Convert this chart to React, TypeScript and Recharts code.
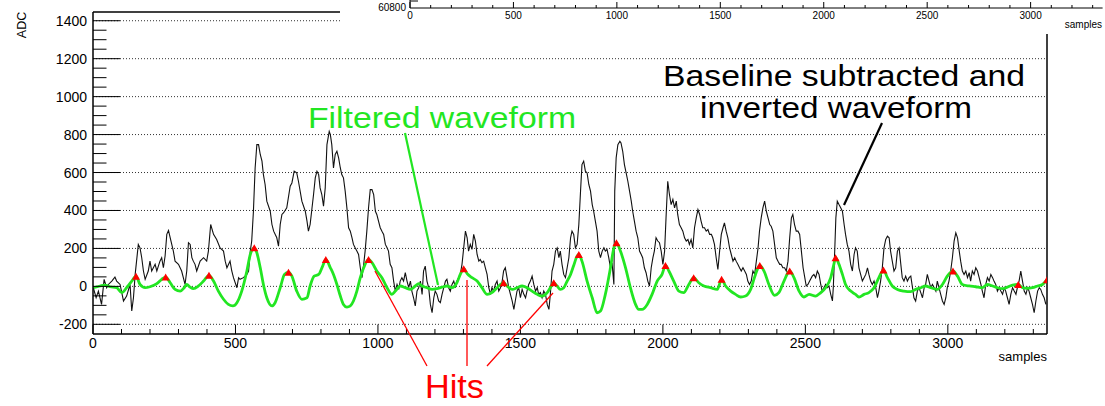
import React from 'react';
import { ComposedChart, Line, Scatter, XAxis, YAxis, ReferenceLine } from 'recharts';

// baseline subtracted, inverted waveform (black)
const rawSamples = [
  1, 11, 19, 30, 39, 48, 54, 66, 77, 83, 95, 107, 118, 130, 136, 142, 148, 159, 165, 171, 177, 183, 194, 200, 206, 218, 224,
  235, 241, 247, 253, 259, 265, 271, 282, 288, 300, 311, 317, 323, 329, 335, 341, 347, 352, 358, 364, 376, 388, 399, 405,
  413, 423, 434, 446, 458, 464, 470, 481, 487, 493, 505, 511, 516, 528, 540, 546, 552, 557, 563, 569, 575, 581, 587, 593,
  598, 604, 610, 622, 628, 634, 645, 651, 657, 663, 669, 680, 692, 698, 706, 715, 721, 733, 745, 751, 756, 762, 768, 774,
  780, 786, 792, 797, 803, 809, 815, 821, 829, 833, 838, 844, 850, 856, 862, 868, 873, 879, 885, 891, 897, 903, 909, 914,
  920, 926, 932, 938, 944, 950, 955, 961, 967, 973, 979, 985, 991, 996, 1002, 1008, 1014, 1020, 1026, 1032, 1037, 1043,
  1049, 1055, 1061, 1067, 1073, 1078, 1084, 1090, 1096, 1102, 1108, 1114, 1119, 1125, 1131, 1137, 1143, 1149, 1155, 1160,
  1166, 1172, 1178, 1184, 1190, 1196, 1201, 1207, 1213, 1219, 1225, 1231, 1237, 1242, 1248, 1254, 1260, 1266, 1272, 1277,
  1283, 1289, 1295, 1301, 1307, 1313, 1318, 1324, 1330, 1336, 1342, 1348, 1354, 1359, 1365, 1371, 1377, 1383, 1389, 1395,
  1400, 1406, 1412, 1418, 1424, 1430, 1436, 1441, 1447, 1453, 1459, 1465, 1471, 1477, 1482, 1488, 1494, 1500, 1506, 1512,
  1518, 1523, 1529, 1535, 1541, 1547, 1553, 1559, 1564, 1570, 1576, 1582, 1588, 1594, 1600, 1605, 1611, 1617, 1623, 1629,
  1635, 1640, 1646, 1652, 1658, 1664, 1670, 1676, 1681, 1687, 1693, 1699, 1705, 1711, 1716, 1722, 1728, 1734, 1740, 1746,
  1752, 1757, 1763, 1769, 1775, 1781, 1787, 1793, 1798, 1804, 1810, 1816, 1822, 1828, 1831, 1836, 1842, 1849, 1853, 1859,
  1865, 1871, 1877, 1883, 1889, 1894, 1900, 1906, 1912, 1918, 1924, 1929, 1935, 1941, 1947, 1953, 1959, 1965, 1970, 1976,
  1982, 1988, 1994, 2000, 2006, 2011, 2017, 2023, 2029, 2035, 2041, 2047, 2052, 2058, 2064, 2070, 2076, 2082, 2088, 2093,
  2099, 2105, 2111, 2117, 2123, 2129, 2134, 2140, 2146, 2152, 2158, 2164, 2170, 2175, 2181, 2187, 2193, 2199, 2205, 2211,
  2216, 2222, 2228, 2234, 2240, 2246, 2252, 2257, 2263, 2269, 2275, 2281, 2287, 2293, 2298, 2304, 2310, 2316, 2322, 2328,
  2334, 2339, 2345, 2351, 2357, 2363, 2369, 2375, 2380, 2386, 2392, 2398, 2404, 2410, 2415, 2421, 2427, 2433, 2439, 2445,
  2451, 2456, 2462, 2468, 2474, 2480, 2486, 2492, 2498, 2503, 2509, 2515, 2524, 2530, 2536, 2542, 2548, 2554, 2559, 2565,
  2571, 2577, 2583, 2589, 2595, 2598, 2603, 2607, 2612, 2618, 2624, 2630, 2636, 2641, 2647, 2653, 2659, 2665, 2671, 2676,
  2682, 2688, 2694, 2700, 2706, 2712, 2718, 2723, 2729, 2735, 2741, 2747, 2753, 2758, 2764, 2770, 2776, 2782, 2788, 2794,
  2799, 2805, 2811, 2817, 2823, 2829, 2835, 2840, 2846, 2852, 2858, 2864, 2870, 2876, 2881, 2887, 2893, 2899, 2905, 2911,
  2917, 2922, 2928, 2934, 2940, 2946, 2952, 2958, 2963, 2969, 2975, 2981, 2987, 2993, 2998, 3004, 3010, 3016, 3022, 3028,
  3034, 3040, 3045, 3051, 3057, 3063, 3069, 3075, 3080, 3086, 3092, 3098, 3104, 3110, 3116, 3121, 3127, 3133, 3139, 3145,
  3151, 3157, 3162, 3168, 3174, 3180, 3186, 3192, 3198, 3203, 3209, 3215, 3221, 3227, 3233, 3239, 3244, 3250, 3256, 3262,
  3268, 3274, 3280, 3285, 3291, 3297, 3303, 3309, 3315, 3321, 3326, 3332, 3338, 3344,
];
const rawAdc = [
  -7, -60, -25, -95, 37, -7, 10, 28, 49, 28, 10, -77, -51, 10, -130, -60, 63, 221, 203, 151, 81, 37, 81, 133, 81, 116, 81,
  133, 151, 98, 160, 274, 295, 256, 186, 133, 116, 81, 46, 10, 81, 230, 221, 151, 133, 116, 81, 133, 151, 133, 186,
  326, 274, 247, 203, 186, 133, 98, 133, 81, 46, -7, 46, 37, 46, 63, 81, 186, 239, 396, 624, 747, 747, 695, 660,
  589, 537, 449, 396, 326, 291, 256, 212, 326, 379, 388, 414, 528, 545, 607, 598, 554, 449, 396, 344, 291, 326, 405, 484,
  572, 607, 589, 519, 484, 423, 519, 747, 817, 800, 747, 624, 695, 712, 677, 624, 589, 572, 502, 414, 309, 291, 256, 221,
  203, 186, 168, 98, 46, 116, 186, 291, 414, 510, 510, 484, 396, 379, 344, 309, 291, 274, 221, 203, 186, 116,
  98, 28, -25, 10, -16, 28, 46, 28, 72, 28, -7, 28, -25, -60, -103, -25, -7, 28, -42, 81,
  107, 28, -7, -95, -139, -60, -25, -42, -77, -86, -42, -7, 28, 37, -7, -25, 10, 28, -7, 28,
  46, 63, 116, 203, 291, 256, 186, 221, 195, 274, 239, 168, 133, 142, 125, 133, 98, 63, -7, -42,
  -7, -25, 10, 28, -25, -7, 28, 81, 98, 46, -7, -42, -77, -121, -77, -25, -7, -60, -16, -42,
  -60, -25, 10, 28, 54, 10, -25, -7, -42, -33, -60, -25, -42, -95, -121, -42, 81, 116, 186, 203,
  151, 186, 116, 63, 46, 98, 151, 256, 291, 274, 203, 221, 326, 502, 642, 660, 607, 598, 537, 502,
  431, 396, 344, 291, 186, 151, 186, 203, 186, 195, 151, 98, 116, 10, 502, 677, 747, 765, 756, 712,
  642, 598, 554, 502, 449, 396, 344, 291, 256, 186, 168, 151, 98, 72, 28, 2, 98, 151, 186, 256,
  239, 230, 186, 116, 186, 361, 554, 484, 431, 458, 414, 449, 379, 326, 309, 291, 256, 239, 247, 221,
  247, 203, 309, 361, 405, 379, 344, 309, 309, 291, 300, 274, 274, 256, 221, 151, 89, 186, 274, 309,
  335, 291, 256, 203, 168, 133, 151, 133, 116, 98, 81, 98, 81, 63, 28, 10, 28, 81, 63, 133,
  203, 291, 361, 414, 449, 396, 361, 326, 317, 291, 221, 151, 133, 116, 116, 98, 98, 81, 133, 256,
  361, 379, 326, 291, 291, 274, 186, 98, 46, 2, 10, 28, 54, 63, 46, 81, 63, 10, -25, -7,
  10, -7, 2, -42, -77, -7, 186, 361, 449, 431, 414, 396, 326, 274, 221, 186, 116, 81, 168, 203,
  186, 98, 63, 28, 46, 63, 98, 63, 28, 10, 28, -7, -60, -25, 28, 98, 203, 247, 265, 256,
  186, 133, 81, 98, 186, 203, 116, 46, 28, 54, 28, 46, 54, -7, -60, -77, -25, -7, -33, -60,
  -7, 10, 63, 28, -7, 10, -7, -25, 28, -7, -42, -77, -95, -60, -7, 28, 81, 151, 239, 282,
  256, 186, 133, 81, 63, 81, 46, 72, 28, 81, 63, 98, 81, 46, 10, -25, -60, 10, 46, 28,
  63, 46, 28, 10, -25, -7, -25, -42, -7, -25, -60, -95, -42, -7, -25, -42, -7, 28, 81, 28,
  -25, -42, -7, -25, -60, -95, -139, -77, -25, -7, -16, -42, -60, -95,
];

// filtered waveform (green)
const filteredSamples = [
  1, 25, 42, 60, 83, 101, 118, 136, 151, 165, 183, 200, 224, 241, 255, 271, 288, 306, 320, 329, 341, 352, 370, 388, 407,
  423, 440, 458, 475, 491, 505, 522, 540, 552, 566, 575, 587, 598, 610, 628, 639, 657, 672, 686, 698, 715, 733, 751, 762,
  776, 792, 806, 817, 833, 844, 856, 868, 879, 891, 903, 914, 926, 938, 950, 967, 979, 996, 1014, 1032, 1049, 1061, 1078,
  1096, 1114, 1131, 1143, 1155, 1172, 1190, 1207, 1225, 1242, 1260, 1277, 1289, 1301, 1313, 1330, 1348, 1365, 1383, 1400,
  1418, 1430, 1441, 1453, 1471, 1488, 1506, 1523, 1541, 1559, 1576, 1594, 1605, 1617, 1629, 1640, 1652, 1664, 1676, 1687,
  1699, 1705, 1716, 1734, 1752, 1769, 1781, 1798, 1816, 1828, 1837, 1851, 1869, 1886, 1904, 1915, 1927, 1945, 1962, 1980,
  1997, 2009, 2021, 2038, 2056, 2073, 2091, 2108, 2126, 2144, 2167, 2191, 2206, 2220, 2238, 2255, 2273, 2290, 2308, 2325,
  2340, 2355, 2372, 2392, 2407, 2425, 2445, 2460, 2478, 2495, 2513, 2536, 2554, 2571, 2589, 2600, 2606, 2618, 2630, 2641,
  2659, 2676, 2688, 2706, 2723, 2741, 2758, 2774, 2788, 2805, 2823, 2846, 2870, 2887, 2905, 2922, 2940, 2963, 2981, 2998,
  3018, 3034, 3051, 3075, 3098, 3121, 3139, 3157, 3174, 3192, 3209, 3227, 3247, 3262, 3280, 3297, 3315, 3332, 3348,
];
const filteredAdc = [
  -7, 2, 7, -2, -7, -33, -7, 28, 54, 10, -7, -2, 14, 37, 49, 19, -16, -25, -7, 10, -4, -12, 2, 28, 58,
  28, -25, -68, -95, -103, -86, -25, 81, 168, 203, 177, 98, 10, -60, -103, -86, -7, 63, 75, 54, -25, -68, -60, 2,
  54, 63, 107, 142, 98, 63, 10, -51, -95, -109, -103, -77, -25, 46, 98, 142, 125, 81, 46, -7, -42, -25, 2,
  -7, -16, 2, 14, 2, -7, -16, -12, -4, 2, -7, 19, 63, 93, 67, 46, 28, -7, -42, -33,
  -7, 10, 19, 2, -16, -7, 2, -7, -25, -42, -51, -33, -7, 19, 2, -16, -7, 28, 63, 110,
  160, 168, 133, 28, -60, -139, -130, -42, 98, 203, 230, 186, 98, -7, -95, -121, -121, -95, -42, 28,
  63, 110, 81, 28, -25, -33, 10, 46, 19, 2, -7, -16, 37, 2, -25, -42, -56, -51, -16, 63,
  110, 81, 10, -47, -33, 28, 81, 46, -25, -56, -42, -51, -33, -7, 46, 116, 151, 116, 63, 10,
  -25, -42, -56, -42, -33, -7, 46, 86, 46, 2, -16, -25, -28, -16, -7, 2, -7, -16, 10, 54,
  81, 54, 10, 2, -2, -7, 10, 2, -7, -12, -4, 7, 10, -7, -11, -7, 2, 10, 35,
];

// hits found on the filtered waveform (red triangles)
const hitSamples = [151, 255, 407, 566, 686, 817, 967, 1301, 1441, 1617, 1705, 1837, 2009, 2108, 2206, 2340, 2445, 2606, 2774, 3018, 3247, 3348];
const hitAdc = [54, 49, 58, 203, 75, 142, 142, 93, 19, 19, 168, 230, 110, 46, 37, 110, 81, 151, 86, 81, 10, 35];

const xTicks = [0, 100, 200, 300, 400, 500, 600, 700, 800, 900, 1000, 1100, 1200, 1300, 1400, 1500, 1600, 1700, 1800, 1900, 2000, 2100, 2200, 2300, 2400, 2500, 2600, 2700, 2800, 2900, 3000, 3100, 3200, 3300];
const yTicks = Array.from({ length: 33 }, (_, i) => -200 + i * 50);
const yGrid = [-200, 0, 200, 400, 600, 800, 1000, 1200, 1400];
const X_MAX = 3348;
const Y_MIN = -251;
const Y_MAX = 1446;

const FONT = '"Liberation Sans", Arial, Helvetica, sans-serif';
const GREEN = '#22e622';

// the partly hidden frame of another pad at the top right
const INSET_LEFT = 410;
const INSET_RIGHT = 1102.6;
const INSET_AXIS_Y = 8;
const insetX = (v: number) => INSET_LEFT + (v / X_MAX) * (INSET_RIGHT - INSET_LEFT);

const rawData = rawSamples.map((s, i) => ({ s, adc: rawAdc[i] }));
const filteredData = filteredSamples.map((s, i) => ({ s, adc: filteredAdc[i] }));
const hitData = hitSamples.map((s, i) => ({ s, adc: hitAdc[i] }));

const XTick = (props: any) => {
  const { x, y, payload } = props;
  const v = payload.value;
  const major = v % 500 === 0;
  return (
    <g>
      <line x1={x} x2={x} y1={y} y2={y - (major ? 9.5 : 5)} stroke="#000" strokeWidth={1} />
      {major && (
        <text x={x} y={y + 14} textAnchor="middle" fontSize={14} fontFamily={FONT} fill="#000">
          {v}
        </text>
      )}
    </g>
  );
};

const YTick = (props: any) => {
  const { x, y, payload } = props;
  const v = payload.value;
  const major = v % 200 === 0;
  return (
    <g>
      <line x1={x} x2={x + (major ? 27 : 13.5)} y1={y} y2={y} stroke="#000" strokeWidth={1} />
      {major && (
        <text x={x - 6} y={y + 5} textAnchor="end" fontSize={14} fontFamily={FONT} fill="#000">
          {v}
        </text>
      )}
    </g>
  );
};

const Triangle = (props: any) => {
  const { cx, cy } = props;
  return <polygon points={`${cx - 4},${cy + 3.5} ${cx + 4},${cy + 3.5} ${cx},${cy - 3.5}`} fill="#ff0000" />;
};

export default function App() {
  return (
    <div style={{ position: 'absolute', left: 0, top: 0, width: 1105, height: 406, background: '#fff', fontFamily: FONT }}>
      <ComposedChart width={1105} height={406} margin={{ top: 12, right: 58, bottom: 42, left: 33 }}>
        {yGrid.map((v) => (
          <ReferenceLine key={v} y={v} stroke="#333" strokeDasharray="1 2" strokeWidth={1} />
        ))}
        <XAxis
          dataKey="s"
          type="number"
          domain={[0, X_MAX]}
          allowDataOverflow
          ticks={xTicks}
          interval={0}
          tick={<XTick />}
          tickSize={0}
          tickMargin={0}
          tickLine={false}
          height={30}
          axisLine={{ stroke: '#000', strokeWidth: 1.5 }}
        />
        <YAxis
          dataKey="adc"
          type="number"
          domain={[Y_MIN, Y_MAX]}
          allowDataOverflow
          ticks={yTicks}
          interval={0}
          tick={<YTick />}
          tickSize={0}
          tickMargin={0}
          tickLine={false}
          width={60}
          axisLine={{ stroke: '#000', strokeWidth: 1.5 }}
        />
        <ReferenceLine y={Y_MAX} stroke="#000" strokeWidth={1.5} />
        <ReferenceLine x={X_MAX} stroke="#000" strokeWidth={1.5} />
        <Line
          data={rawData}
          dataKey="adc"
          type="linear"
          stroke="#111"
          strokeWidth={1.1}
          dot={false}
          activeDot={false}
          isAnimationActive={false}
        />
        <Line
          data={filteredData}
          dataKey="adc"
          type="monotone"
          stroke={GREEN}
          strokeWidth={2.8}
          dot={false}
          activeDot={false}
          isAnimationActive={false}
        />
        <Scatter data={hitData} dataKey="adc" shape={<Triangle />} isAnimationActive={false} />
      </ComposedChart>

      <svg
        width={1105}
        height={406}
        style={{ position: 'absolute', left: 0, top: 0, pointerEvents: 'none' }}
        fontFamily={FONT}
      >
        <text transform="translate(22,25) rotate(-90)" textAnchor="middle" dominantBaseline="central" fontSize={12.5} fill="#000">
          ADC
        </text>
        <text x={1047} y={361} textAnchor="end" fontSize={13} fill="#000">
          samples
        </text>

        <text x={308} y={128} fontSize={30} fill={GREEN} textLength={268} lengthAdjust="spacingAndGlyphs">
          Filtered waveform
        </text>
        <line x1={405} y1={133} x2={438} y2={285} stroke={GREEN} strokeWidth={2.2} />

        <text x={663} y={86} fontSize={30} fill="#000" textLength={362} lengthAdjust="spacingAndGlyphs">
          Baseline subtracted and
        </text>
        <text x={700} y={118} fontSize={30} fill="#000" textLength={272} lengthAdjust="spacingAndGlyphs">
          inverted waveform
        </text>
        <line x1={882} y1={123} x2={844} y2={205} stroke="#000" strokeWidth={2.2} />

        <line x1={375} y1={271} x2={427} y2={366} stroke="#ff0000" strokeWidth={1.3} />
        <line x1={467} y1={280} x2={467} y2={366} stroke="#ff0000" strokeWidth={1.3} />
        <line x1={553} y1={293} x2={487} y2={366} stroke="#ff0000" strokeWidth={1.3} />
        <text x={425} y={398} fontSize={33} fill="#ff0000" textLength={59} lengthAdjust="spacingAndGlyphs">
          Hits
        </text>

        {/* inset pad covering the top right */}
        <rect x={340} y={0} width={765} height={34} fill="#fff" />
        <line x1={INSET_LEFT} y1={0} x2={INSET_LEFT} y2={INSET_AXIS_Y} stroke="#000" strokeWidth={1} />
        <line x1={INSET_LEFT} y1={1} x2={INSET_LEFT + 8} y2={1} stroke="#000" strokeWidth={1} />
        <line x1={INSET_LEFT} y1={INSET_AXIS_Y} x2={INSET_RIGHT} y2={INSET_AXIS_Y} stroke="#000" strokeWidth={1} />
        {xTicks.map((v) => {
          const major = v % 500 === 0;
          const px = insetX(v);
          return (
            <g key={v}>
              <line x1={px} x2={px} y1={INSET_AXIS_Y} y2={INSET_AXIS_Y - (major ? 6 : 3)} stroke="#000" strokeWidth={1} />
              {major && (
                <text x={px} y={INSET_AXIS_Y + 10.5} textAnchor="middle" fontSize={10} fill="#000">
                  {v}
                </text>
              )}
            </g>
          );
        })}
        <text x={INSET_LEFT - 4} y={11} textAnchor="end" fontSize={10} fill="#000">
          60800
        </text>
        <text x={1102} y={28} textAnchor="end" fontSize={10} fill="#000">
          samples
        </text>
      </svg>
    </div>
  );
}
